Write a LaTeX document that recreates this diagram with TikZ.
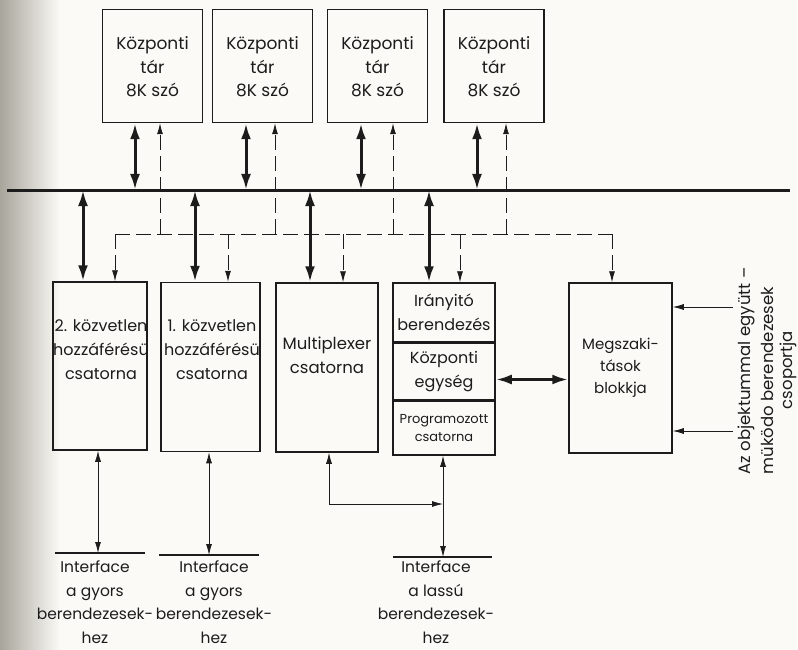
\documentclass[tikz,border=0pt]{standalone}
\usepackage{fontspec}
\setmainfont{Poppins}
\usetikzlibrary{arrows.meta}
\definecolor{paper}{RGB}{251,250,246}
\definecolor{gutter}{RGB}{168,165,155}
\definecolor{ink}{RGB}{28,28,28}
\tikzset{
  box/.style={draw=ink, line width=1.5pt, fill=none, inner sep=0pt},
  txt/.style={align=center, inner sep=0pt, text=ink, font=\fontsize{16}{24}\selectfont},
  memtxt/.style={align=center, inner sep=0pt, text=ink, font=\fontsize{17}{23.5}\selectfont},
  sidetxt/.style={align=left, inner sep=0pt, text=ink, rotate=90, font=\fontsize{16.5}{23}\selectfont},
  busline/.style={draw=ink, line width=3pt},
  ifline/.style={draw=ink, line width=1.6pt},
  thickarr/.style={draw=ink, line width=3pt, {Latex[length=16pt,width=10pt]}-{Latex[length=16pt,width=10pt]}},
  thinboth/.style={draw=ink, line width=0.8pt, {Latex[length=11pt,width=6pt]}-{Latex[length=11pt,width=6pt]}},
  thinarr/.style={draw=ink, line width=0.8pt, -{Latex[length=11pt,width=6pt]}},
  dashline/.style={draw=ink, line width=0.8pt, dash pattern=on 15pt off 6pt},
  dasharr/.style={dashline, -{Latex[length=11pt,width=6pt]}},
}
\begin{document}
\begin{tikzpicture}[x=1pt, y=-1pt]
  % paper and the shadow of the binding on the left
  \fill[paper] (0,0) rectangle (798,650);
  \shade[left color=gutter, right color=paper] (0,0) rectangle (60,650);
  \useasboundingbox (0,0) rectangle (798,650);

  % main memory modules
  \foreach \n/\cx in {m1/152.5, m2/262.5, m3/377.5, m4/494}
    \node[box, minimum width=100pt, minimum height=113pt] (\n) at (\cx,66) {};
  \foreach \n in {m1,m2,m3,m4}
    \node[memtxt] (\n t) at ([yshift=-1pt]\n.center) {Központi\\tár\\8K szó};

  % common bus
  \coordinate (busL) at (7,190);
  \coordinate (busR) at (790,190);
  \draw[busline] (busL) -- (busR);

  % channels and processor blocks
  \node[box, minimum width=94pt, minimum height=168pt] (dA) at (100,366) {};
  \node[txt] (dAt) at (101,350) {2. közvetlen\\hozzáférésü\\csatorna};
  \node[box, minimum width=99pt, minimum height=169pt] (dB) at (210.5,367) {};
  \node[txt] (dBt) at (212,350) {1. közvetlen\\hozzáférésü\\csatorna};
  \node[box, minimum width=102pt, minimum height=169pt] (dC) at (327,367.5) {};
  \node[txt, font=\fontsize{16.5}{24}\selectfont] (dCt) at (327,355) {Multiplexer\\csatorna};

  \node[box, txt, minimum width=102pt, minimum height=59pt] (d1) at (444,312.5) {Irányitó\\berendezés};
  \node[box, txt, minimum width=102pt, minimum height=56pt, anchor=north] (d2) at (d1.south) {Központi\\egység};
  \node[box, minimum width=102pt, minimum height=54pt, anchor=north, align=center, text=ink,
        font=\fontsize{13}{18.5}\selectfont] (d3) at (d2.south) {Programozott\\csatorna};

  \node[box, minimum width=103pt, minimum height=170pt] (dE) at (620.5,368) {};
  \node[txt, font=\fontsize{15}{22}\selectfont] (dEt) at (dE.center) {Megszaki-\\tások\\blokkja};

  % memory <-> bus
  \foreach \n/\x in {m1/135, m2/246, m3/361, m4/477}
    \draw[thickarr] (\n.south -| \x,0) -- (\x,0 |- busL);

  % bus <-> channels
  \foreach \n/\x in {dA/83, dB/195, dC/310, d1/429}
    \draw[thickarr] (\x,0 |- busL) -- (\n.north -| \x,0);

  % control lines (dashed)
  \coordinate (ctlL) at (115,234);
  \coordinate (ctlR) at (612,234);
  \draw[dashline] (ctlL) -- (ctlR);
  \foreach \n/\x in {m1/160, m2/275, m3/393, m4/506}
    \draw[dasharr] (\x,0 |- ctlL) -- (\n.south -| \x,0);
  \foreach \n/\x in {dA/115, dB/228, dC/343, d1/460, dE/612}
    \draw[dasharr] (\x,0 |- ctlL) -- (\n.north -| \x,0);

  % central unit <-> interrupt block
  \draw[thickarr] ([yshift=-8pt]d2.east) -- ([yshift=-8pt]d2.east -| dE.west);

  % external interrupt sources
  \coordinate (in1) at (733,307);
  \coordinate (in2) at (733,431);
  \draw[thinarr] (in1) -- (dE.east |- in1);
  \draw[thinarr] (in2) -- (dE.east |- in2);
  \node[sidetxt] (objt) at (756,371)
    {Az objektummal együtt –\\müködo berendezesek};
  \node[sidetxt] (objc) at (788,370) {csoportja};

  % interfaces
  \coordinate (iA1) at (55,553);  \coordinate (iA2) at (145,553);
  \coordinate (iB1) at (159,555); \coordinate (iB2) at (259,555);
  \coordinate (iC1) at (393,557); \coordinate (iC2) at (492,557);
  \draw[ifline] (iA1) -- (iA2);
  \draw[ifline] (iB1) -- (iB2);
  \draw[ifline] (iC1) -- (iC2);
  \draw[thinboth] (dA.south -| 98,0) -- (98,0 |- iA1);
  \draw[thinboth] (dB.south -| 209,0) -- (209,0 |- iB1);
  \draw[thinboth] (d3.south -| 443,0) -- (443,0 |- iC1);
  \coordinate (mux) at (443,504);
  \draw[thinboth] (dC.south -| 329,0) |- (mux);

  \node[txt, font=\fontsize{15.5}{23.5}\selectfont] (iAt) at (95,602) {Interface\\a gyors\\berendezesek-\\hez};
  \node[txt, font=\fontsize{15.5}{23.5}\selectfont] (iBt) at (214,602) {Interface\\a gyors\\berendezesek-\\hez};
  \node[txt, font=\fontsize{15.5}{23.5}\selectfont] (iCt) at (436,602) {Interface\\a lassú\\berendezesek-\\hez};
\end{tikzpicture}
\end{document}
